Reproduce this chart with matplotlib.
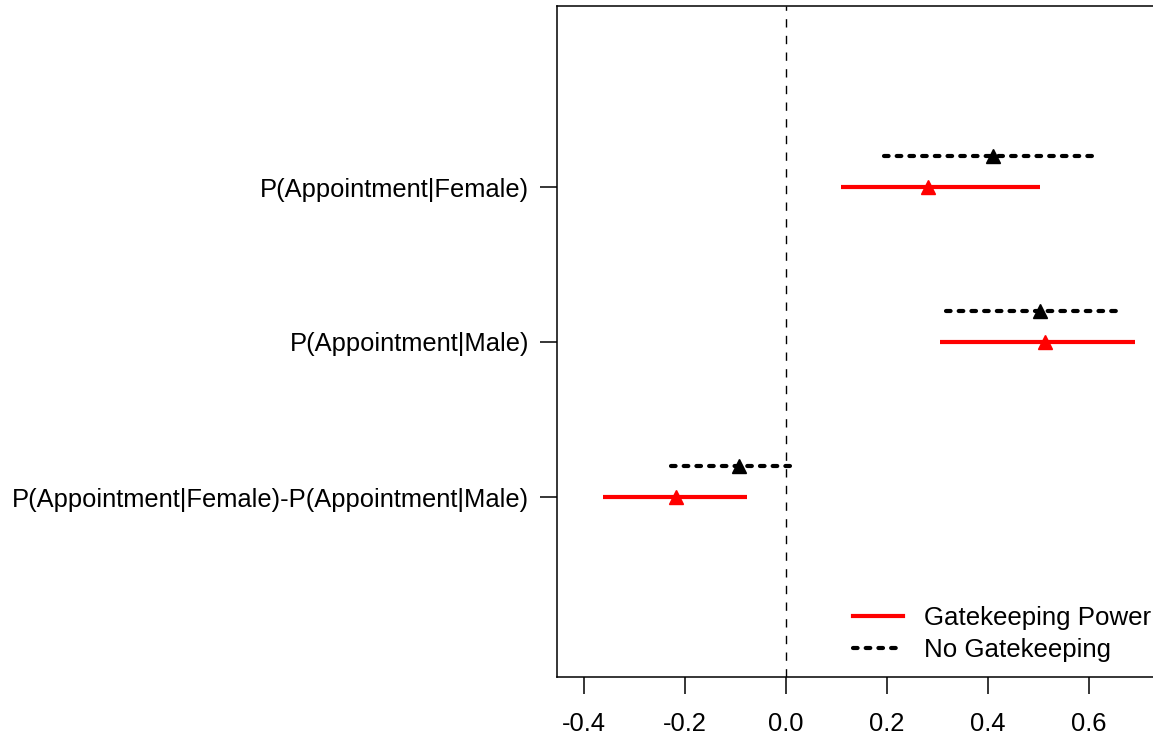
import numpy as np
import matplotlib
matplotlib.use('Agg')
import matplotlib.pyplot as plt
from matplotlib.lines import Line2D

plt.rcParams['font.family'] = ['Liberation Sans', 'DejaVu Sans']

# data
labels = ['P(Appointment|Female)', 'P(Appointment|Male)',
          'P(Appointment|Female)-P(Appointment|Male)']
rows = [3, 2, 1]

gate_est = [0.282, 0.514, -0.217]
gate_lo = [0.110, 0.306, -0.361]
gate_hi = [0.504, 0.692, -0.076]

nogate_est = [0.411, 0.504, -0.092]
nogate_lo = [0.195, 0.318, -0.227]
nogate_hi = [0.617, 0.662, 0.013]

fig = plt.figure(figsize=(11.53, 7.40), dpi=100)
ax = fig.add_axes([557 / 1153, 1 - 677 / 740, (1165 - 557) / 1153, (677 - 6) / 740])

offset = 0.2
dot_style = (0, (1.1, 1.95))

for i, r in enumerate(rows):
    # gatekeeping power (red, solid)
    ax.plot([gate_lo[i], gate_hi[i]], [r, r], color='red', lw=3,
            solid_capstyle='butt')
    ax.plot(gate_est[i], r, marker='^', color='red', ms=10, mec='red')
    # no gatekeeping (black, dotted)
    ax.plot([nogate_lo[i], nogate_hi[i]], [r + offset, r + offset],
            color='black', lw=3, linestyle=dot_style, dash_capstyle='round')
    ax.plot(nogate_est[i], r + offset, marker='^', color='black', ms=10)

ax.axvline(0, color='black', lw=1, linestyle=(0, (6, 6)))

ax.set_xlim(-0.4525, (1165 - 785.5) / 505)
ax.set_ylim(1 - (677 - 497) / 155, 3 + (187 - 6) / 155)

ax.set_xticks([-0.4, -0.2, 0.0, 0.2, 0.4, 0.6])
ax.set_xticklabels(['-0.4', '-0.2', '0.0', '0.2', '0.4', '0.6'])
ax.set_yticks(rows)
ax.set_yticklabels(labels)
ax.tick_params(axis='both', labelsize=18.4, length=12, width=1.1, pad=8)
ax.tick_params(axis='x', pad=13)
for sp in ax.spines.values():
    sp.set_linewidth(1.1)

handles = [Line2D([], [], color='red', lw=3),
           Line2D([], [], color='black', lw=3, linestyle=dot_style,
                  dash_capstyle='round')]
fig.legend(handles, ['Gatekeeping Power', 'No Gatekeeping'],
           loc='lower left', bbox_to_anchor=(853 / 1153, 1 - 662 / 740),
           frameon=False, fontsize=18.6, handlelength=1.95, handletextpad=0.8,
           labelspacing=0.3, borderpad=0, borderaxespad=0)

fig.savefig('out.png', dpi=100)
